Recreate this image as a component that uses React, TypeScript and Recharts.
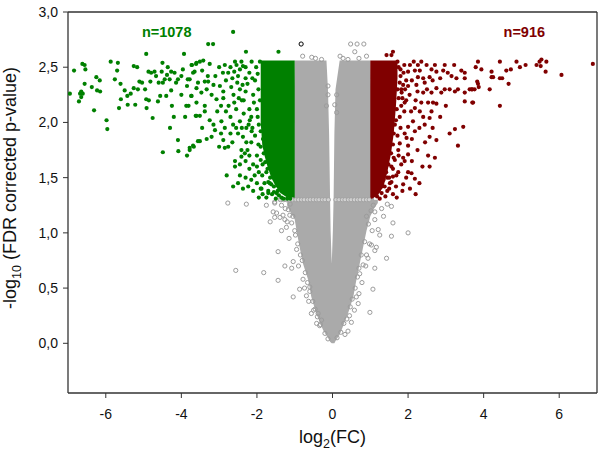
import React from 'react';
import { ComposedChart, Area, Scatter, XAxis, YAxis, ReferenceLine } from 'recharts';

const FONT = '"Liberation Sans", Arial, Helvetica, sans-serif';

const xTicks = [-6, -4, -2, 0, 2, 4, 6];
const yTicks = [0, 0.5, 1, 1.5, 2, 2.5, 3];
const xDomain: [number, number] = [-7, 7];
const yDomain: [number, number] = [-0.45, 3];

const downLabel = 'n=1078';
const upLabel = 'n=916';

type P = [number, number];
type Band = [number, number, number];

// significantly down-regulated genes (log2FC, -log10 FDR)
const downPoints: P[] = [
  [-4.93, 2.62], [-3.93, 2.62], [-6.84, 2.47], [-6.62, 2.53], [-6.56, 2.52], [-6.54, 2.48], [-5.87, 2.55], [-5.68, 2.54],
  [-5.7, 2.47], [-5.26, 2.51], [-5.17, 2.5], [-5.76, 2.39], [-6.25, 2.41], [-6.16, 2.38], [-6.56, 2.35], [-6.37, 2.32],
  [-6.23, 2.29], [-6.15, 2.28], [-6.65, 2.28], [-6.68, 2.26], [-6.61, 2.26], [-6.65, 2.23], [-6.71, 2.19], [-6.95, 2.26],
  [-6.31, 2.11], [-5.61, 2.35], [-5.5, 2.29], [-5.34, 2.26], [-5.43, 2.24], [-5.6, 2.21], [-5.65, 2.13], [-5.42, 2.16],
  [-5.22, 2.16], [-5.26, 2.31], [-5.15, 2.3], [-5.11, 2.37], [-5.04, 2.36], [-4.96, 2.3], [-4.93, 2.21], [-4.86, 2.2],
  [-4.92, 2.13], [-4.76, 2.04], [-4.62, 2.19], [-4.56, 2.24], [-4.4, 2.24], [-4.25, 2.15], [-4.27, 2.29], [-4.87, 2.46],
  [-4.8, 2.45], [-4.71, 2.46], [-4.67, 2.42], [-4.5, 2.54], [-4.52, 2.46], [-4.36, 2.5], [-4.38, 2.43], [-4.27, 2.46],
  [-4.18, 2.45], [-4.31, 2.39], [-4.14, 2.36], [-3.96, 2.48], [-3.85, 2.33], [-3.72, 2.52], [-3.61, 2.53], [-3.74, 2.24],
  [-3.87, 2.15], [-3.81, 2.15], [-3.62, 2.06], [-4.09, 1.84], [-4.49, 1.73], [-4.08, 1.74], [-3.85, 1.7], [-3.78, 1.75],
  [-3.67, 1.78], [-3.56, 1.83], [-5.98, 2.02], [-5.96, 1.94], [-4.82, 2.37], [-4.6, 2.36], [-4.49, 2.36], [-4.44, 2.39],
  [-4.09, 2.39], [-4.0, 2.42], [-3.65, 2.46], [-3.83, 2.39], [-3.29, 2.71], [-3.16, 2.71], [-2.63, 2.82], [-2.29, 2.64],
  [-1.43, 2.64], [-3.73, 2.52], [-3.6, 2.54], [-3.51, 2.55], [-3.42, 2.56], [-3.25, 2.53], [-3.69, 2.45], [-3.78, 2.39],
  [-3.56, 2.36], [-3.6, 2.31], [-3.38, 2.37], [-3.29, 2.37], [-3.47, 2.27], [-3.73, 2.24], [-3.33, 2.3], [-3.2, 2.25],
  [-3.07, 2.21], [-2.89, 2.22], [-2.89, 2.28], [-2.98, 2.33], [-2.76, 2.45], [-2.58, 2.55], [-2.54, 2.52], [-2.41, 2.55],
  [-2.37, 2.51], [-2.14, 2.55], [-1.92, 2.55], [-3.6, 2.06], [-3.51, 2.06], [-3.38, 2.15], [-3.38, 2.1], [-3.25, 2.02],
  [-3.11, 1.93], [-3.2, 1.87], [-3.33, 1.85], [-3.51, 1.83], [-3.69, 1.79], [-3.78, 1.77], [-2.85, 1.95], [-2.89, 1.84],
  [-2.76, 1.78], [-2.85, 1.77], [-2.94, 2.01], [-2.63, 1.98], [-2.45, 2.01], [-2.37, 1.87], [-2.19, 2.02], [-2.14, 1.92],
  [-2.58, 1.65], [-2.58, 1.6], [-2.8, 1.52], [-2.63, 1.42], [-2.45, 1.52], [-2.37, 1.4], [-2.23, 1.42], [-2.06, 1.52],
  [-1.88, 1.4], [-1.7, 1.36], [-1.66, 1.45], [-1.48, 1.36], [-2.41, 1.75], [-2.32, 1.72], [-2.41, 1.69],
  [-2.2, 2.45], [-2.05, 2.38], [-2.1, 2.25], [-2.0, 2.12], [-2.15, 2.05], [-1.95, 1.98], [-2.05, 1.88], [-1.9, 1.78],
  [-2.0, 1.7], [-1.85, 1.62], [-1.95, 1.55], [-1.75, 1.55], [-1.65, 1.5], [-1.8, 1.45], [-1.55, 1.42], [-1.45, 1.38],
  [-1.6, 1.35], [-1.35, 1.32], [-1.2, 1.31], [-2.3, 2.5], [-2.25, 2.35], [-2.35, 2.2], [-2.2, 2.12], [-2.28, 1.95],
  [-2.15, 1.82], [-2.25, 1.75], [-2.1, 1.62], [-2.0, 1.45], [-1.9, 1.4], [-1.7, 1.38], [-1.75, 1.32], [-1.5, 1.31],
  [-2.7, 2.5], [-2.65, 2.4], [-2.5, 2.42], [-2.45, 2.3], [-2.62, 2.25], [-2.3, 2.4], [-2.75, 2.15], [-2.55, 2.12],
  [-2.4, 2.2], [-2.7, 2.05], [-2.5, 1.9], [-2.65, 1.82], [-2.28, 1.82],
  [-2.02, 2.5], [-1.98, 2.44], [-2.12, 2.4], [-1.96, 2.3], [-2.08, 2.18], [-1.92, 2.2], [-1.98, 2.05], [-1.9, 1.92],
  [-2.12, 1.95], [-1.84, 1.85], [-1.96, 1.8], [-1.82, 1.72], [-1.9, 1.66], [-1.78, 1.64], [-1.72, 1.58], [-1.86, 1.52],
  [-1.62, 1.44], [-1.7, 1.46], [-1.42, 1.34], [-1.55, 1.37], [-1.3, 1.31], [-1.12, 1.31], [-2.45, 2.48], [-2.6, 2.46],
  [-2.38, 2.34], [-2.52, 2.36], [-2.68, 2.32], [-2.82, 2.38], [-2.9, 2.45], [-3.0, 2.5], [-3.1, 2.42], [-2.85, 2.52],
  [-2.48, 2.22], [-2.3, 2.28], [-2.6, 2.18], [-2.82, 2.1], [-2.95, 2.15], [-2.35, 2.08], [-2.22, 1.98], [-2.4, 1.95],
  [-2.55, 1.95], [-2.7, 1.9], [-2.95, 1.9], [-2.3, 1.65], [-2.2, 1.58], [-2.45, 1.62], [-2.15, 1.48], [-2.3, 1.5],
  [-2.5, 1.45], [-1.95, 1.32], [-2.1, 1.38], [-2.2, 1.7], [-2.0, 1.6], [-1.85, 1.35], [-3.15, 2.34], [-3.3, 2.42],
  [-3.45, 2.47], [-3.05, 2.1], [-3.15, 1.98], [-3.0, 1.78], [-3.45, 1.95], [-3.9, 2.05], [-4.2, 2.05], [-4.3, 1.95],
  [-3.6, 2.18], [-4.0, 2.25],
];

// significantly up-regulated genes
const upPoints: P[] = [
  [1.6, 2.64], [1.43, 2.61], [1.56, 2.61], [2.26, 2.52], [2.49, 2.52], [2.71, 2.52], [2.97, 2.52], [3.22, 2.52],
  [2.0, 2.46], [2.18, 2.47], [2.31, 2.47], [2.62, 2.48], [2.75, 2.46], [2.93, 2.47], [3.41, 2.47], [3.5, 2.45],
  [2.26, 2.41], [2.4, 2.4], [2.57, 2.41], [3.15, 2.42], [3.28, 2.4], [3.5, 2.4], [3.68, 2.3], [1.87, 2.34],
  [2.0, 2.33], [2.22, 2.34], [2.44, 2.36], [2.75, 2.31], [2.97, 2.3], [3.1, 2.3], [3.32, 2.3], [3.5, 2.27],
  [1.83, 2.27], [2.04, 2.25], [2.4, 2.27], [2.62, 2.27], [2.88, 2.27], [3.24, 2.28], [3.5, 2.19], [3.72, 2.18],
  [1.91, 2.18], [2.18, 2.13], [2.53, 2.18], [2.66, 2.18], [2.75, 2.17], [2.31, 2.1], [2.62, 2.1], [2.57, 2.04],
  [2.4, 2.05], [2.13, 2.01], [2.0, 1.96], [2.44, 1.98], [3.24, 1.94], [3.46, 1.96], [1.91, 1.9], [2.18, 1.92],
  [2.57, 1.87], [2.75, 1.84], [3.32, 1.79], [1.96, 1.86], [1.78, 1.81], [2.0, 1.79], [1.74, 1.75], [2.0, 1.71],
  [2.53, 1.7], [2.71, 1.68], [2.57, 1.6], [1.87, 1.68], [1.91, 1.65], [1.65, 1.66], [1.56, 1.6], [1.74, 1.55],
  [2.0, 1.55], [2.09, 1.54], [1.6, 1.51], [1.69, 1.52], [2.18, 1.49], [1.56, 1.46], [1.52, 1.45], [1.87, 1.44],
  [1.6, 1.35], [3.85, 2.55], [4.43, 2.55], [4.87, 2.55], [5.66, 2.55], [5.53, 2.57], [5.48, 2.55], [3.79, 2.5],
  [3.94, 2.48], [4.21, 2.46], [4.6, 2.47], [4.72, 2.48], [4.96, 2.5], [5.11, 2.52], [5.4, 2.52], [5.51, 2.51],
  [5.64, 2.46], [6.06, 2.43], [6.89, 2.53], [4.21, 2.41], [4.25, 2.41], [4.43, 2.4], [4.49, 2.4], [3.83, 2.37],
  [3.85, 2.35], [3.87, 2.32], [3.63, 2.3], [3.7, 2.3], [3.76, 2.3], [4.16, 2.3], [4.66, 2.35], [3.7, 2.18],
  [4.43, 2.15], [1.75, 2.5], [1.8, 2.42], [1.72, 2.3], [1.85, 2.22], [1.7, 2.12], [1.78, 2.05], [1.65, 1.98],
  [1.72, 1.88], [1.6, 1.8], [1.55, 1.72], [1.48, 1.62], [1.42, 1.55], [1.35, 1.48], [1.3, 1.42], [1.22, 1.38],
  [1.18, 1.33], [1.45, 1.38], [1.4, 1.33], [1.9, 2.52], [1.95, 2.38], [1.82, 2.3], [1.9, 2.1], [1.62, 1.68], [1.5, 1.5],
  [1.72, 2.55], [1.8, 2.48], [1.88, 2.45], [1.78, 2.36], [1.92, 2.3], [1.75, 2.22], [1.82, 2.15], [1.95, 2.2],
  [1.68, 2.02], [1.8, 1.95], [1.62, 1.9], [1.75, 1.7], [1.82, 1.62], [1.6, 1.58], [1.45, 1.5], [1.38, 1.42],
  [1.5, 1.4], [1.3, 1.36], [1.68, 1.42], [1.7, 1.32], [1.25, 1.31], [2.05, 2.52], [2.15, 2.55], [2.35, 2.55],
  [2.1, 2.38], [2.25, 2.28], [2.35, 2.18], [2.08, 2.1], [2.2, 2.2], [2.5, 2.3], [2.65, 2.38], [2.85, 2.4],
  [3.05, 2.45], [2.1, 1.85], [2.3, 1.95], [2.45, 1.82], [2.25, 1.75], [2.38, 1.6], [2.1, 1.65], [1.95, 1.5],
  [2.3, 1.45], [2.85, 2.05], [3.0, 2.15], [3.1, 1.9], [2.65, 1.95], [2.05, 1.4], [1.85, 1.38], [2.2, 1.35],
];

// not significant genes (outside the dense core)
const nsPoints: P[] = [
  [0.48, 2.71], [0.65, 2.71], [0.83, 2.71], [0.59, 2.64], [-0.79, 2.6], [0.9, 2.6], [-0.29, 2.57], [0.28, 2.58],
  [0.41, 2.57], [-0.12, 2.33], [-0.12, 2.25], [0.11, 2.25], [0.06, 2.16], [0.11, 2.09], [-0.16, 2.15], [-0.55, 2.59],
  [-0.45, 2.58], [0.2, 2.6], [0.7, 2.58],
  [-1.53, 1.28], [-1.57, 1.19], [-1.48, 1.18], [-1.39, 1.14], [-1.53, 1.14], [-1.31, 1.16], [-1.26, 1.12], [-1.35, 1.02],
  [-1.17, 1.21], [-1.13, 1.16], [-1.0, 1.02], [-1.08, 1.09], [-1.22, 1.05], [-1.82, 0.64], [-1.44, 0.83], [-1.26, 0.7],
  [-1.04, 0.74], [-1.08, 0.68], [-1.44, 0.57], [-1.04, 0.42], [-0.87, 0.49], [-0.6, 0.51], [-0.69, 0.43], [-0.56, 0.27],
  [-0.38, 0.27], [-0.29, 0.21], [-0.34, 0.16], [1.12, 1.19], [1.12, 1.12], [1.56, 1.24], [1.6, 1.09], [1.21, 1.03],
  [1.25, 0.98], [1.56, 0.97], [1.03, 0.89], [1.12, 0.84], [1.16, 0.87], [0.9, 0.8], [0.94, 0.77], [1.43, 0.77],
  [0.81, 0.71], [1.12, 0.68], [0.72, 0.63], [1.07, 0.49], [0.99, 0.28], [0.63, 0.42], [0.68, 0.36], [0.5, 0.19],
  [0.41, 0.11], [0.33, 0.08], [2.0, 1.0], [-2.77, 1.27], [-2.28, 1.26], [-1.53, 1.27], [-2.56, 0.66],
  [-1.05, 1.15], [-0.98, 0.98], [-0.92, 0.9], [-0.85, 0.8], [-0.8, 0.75], [-0.72, 0.64], [-0.66, 0.55], [-0.6, 0.47],
  [-0.52, 0.38], [-0.46, 0.31], [-0.4, 0.24], [-0.32, 0.17], [-0.2, 0.09], [-0.12, 0.04], [0.12, 0.05], [0.22, 0.1],
  [0.3, 0.18], [0.38, 0.22], [0.47, 0.33], [0.52, 0.4], [0.6, 0.5], [0.66, 0.6], [0.7, 0.68], [0.76, 0.8],
  [0.85, 0.92], [0.95, 1.08], [1.02, 1.2], [1.08, 1.25], [-1.12, 1.26], [-1.25, 1.22], [-1.35, 1.25],
  [-1.2, 1.1], [-1.15, 0.95], [-0.95, 0.85], [-0.9, 0.7], [-0.78, 0.58], [-0.74, 0.5], [-0.63, 0.38], [-0.5, 0.3],
  [-0.42, 0.18], [0.9, 1.15], [1.05, 1.02], [0.98, 0.9], [0.88, 0.7], [0.78, 0.55], [0.7, 0.45], [0.58, 0.3],
  [0.45, 0.25], [-1.75, 1.25], [-1.65, 1.1], [1.35, 1.15], [1.45, 1.26], [1.3, 1.22],
];

// genes sitting exactly on FDR = 0.05
const thresholdPoints: P[] = [
  [-1.38, 1.3], [-1.29, 1.3], [-1.21, 1.3], [-1.14, 1.3], [-1.06, 1.3], [-0.97, 1.3], [-0.9, 1.3], [-0.82, 1.3],
  [-0.75, 1.3], [-0.66, 1.3], [-0.59, 1.3], [-0.51, 1.3], [-0.43, 1.3], [-0.36, 1.3], [-0.27, 1.3], [-0.2, 1.3],
  [-0.11, 1.3], [0.09, 1.3], [0.17, 1.3], [0.26, 1.3], [0.33, 1.3], [0.42, 1.3], [0.49, 1.3], [0.58, 1.3],
  [0.66, 1.3], [0.73, 1.3], [0.82, 1.3], [0.9, 1.3], [0.97, 1.3],
];

const highlightPoints: P[] = [[-0.83, 2.71]];

// envelopes of the regions where points overlap completely: [log2FC, low, high]
const downCore: Band[] = [
  [-1.9, 2.0, 2.56], [-1.86, 1.8, 2.56], [-1.8, 1.7, 2.56], [-1.72, 1.6, 2.56], [-1.62, 1.5, 2.56],
  [-1.5, 1.42, 2.56], [-1.38, 1.36, 2.56], [-1.2, 1.32, 2.56], [-1.0, 1.3, 2.56],
];
const nsCore: Band[] = [
  [-1.2, 1.24, 1.3], [-1.1, 1.18, 1.3], [-1.0, 1.12, 2.56], [-0.95, 1.02, 2.56], [-0.87, 0.87, 2.56],
  [-0.78, 0.72, 2.56], [-0.64, 0.57, 2.56], [-0.56, 0.42, 2.56], [-0.43, 0.27, 2.56], [-0.25, 0.12, 2.56],
  [-0.16, 0.07, 2.56], [-0.12, 0.05, 2.3], [-0.09, 0.03, 1.9], [-0.065, 0.015, 1.33], [-0.05, 0.01, 1.02],
  [-0.02, 0.0, 0.72], [0.01, 0.0, 1.02], [0.03, 0.0, 1.33], [0.05, 0.0, 1.9], [0.08, 0.02, 2.3],
  [0.19, 0.08, 2.56], [0.24, 0.12, 2.56], [0.41, 0.27, 2.56], [0.55, 0.42, 2.56], [0.63, 0.57, 2.56],
  [0.72, 0.72, 2.56], [0.81, 0.87, 2.56], [0.9, 1.02, 2.56], [1.0, 1.15, 2.56], [1.1, 1.22, 1.3], [1.2, 1.27, 1.3],
];
const upCore: Band[] = [
  [1.0, 1.3, 2.56], [1.2, 1.34, 2.56], [1.35, 1.42, 2.56], [1.45, 1.55, 2.56],
  [1.55, 1.72, 2.56], [1.62, 1.9, 2.56], [1.68, 2.15, 2.56], [1.72, 2.4, 2.56],
];

const GREEN = '#008000';
const RED = '#800000';
const GREY = '#9c9c9c';
const AXIS = '#333333';

const toXY = (arr: P[]) => arr.map(([x, y]) => ({ x, y }));

const coreRows = [
  ...downCore.map(([x, lo, hi]) => ({ x, down: [lo, hi] })),
  ...nsCore.map(([x, lo, hi]) => ({ x, ns: [lo, hi] })),
  ...upCore.map(([x, lo, hi]) => ({ x, up: [lo, hi] })),
];

const filledDot = (color: string) => (p: any) => (
  <circle cx={p.cx} cy={p.cy} r={2.1} fill={color} stroke="none" />
);
const ringDot = (color: string, fill: string) => (p: any) => (
  <circle cx={p.cx} cy={p.cy} r={2.1} fill={fill} stroke={color} strokeWidth={1} />
);

const fmt = (v: number) => v.toFixed(1).replace('.', ',');

export default function App() {
  return (
    <div style={{ position: 'absolute', left: 0, top: 0, width: 600, height: 459, background: '#fff' }}>
      <ComposedChart
        width={600}
        height={459}
        data={coreRows}
        margin={{ top: 12, right: 3, bottom: 36, left: 8 }}
      >
        <XAxis
          type="number"
          dataKey="x"
          domain={xDomain}
          ticks={xTicks}
          interval={0}
          allowDataOverflow
          height={30}
          tickSize={5}
          tickMargin={11}
          stroke={AXIS}
          axisLine={{ stroke: AXIS, strokeWidth: 1.3 }}
          tickLine={{ stroke: AXIS, strokeWidth: 1 }}
          tick={{ fill: '#111', fontSize: 14, fontFamily: FONT }}
        />
        <YAxis
          type="number"
          dataKey="y"
          domain={yDomain}
          ticks={yTicks}
          interval={0}
          allowDataOverflow
          width={60}
          tickSize={5}
          tickMargin={5}
          tickFormatter={fmt}
          stroke={AXIS}
          axisLine={{ stroke: AXIS, strokeWidth: 1.3 }}
          tickLine={{ stroke: AXIS, strokeWidth: 1 }}
          tick={{ fill: '#111', fontSize: 14, fontFamily: FONT }}
        />
        <ReferenceLine y={3} stroke={AXIS} strokeWidth={1.3} />
        <ReferenceLine x={7} stroke={AXIS} strokeWidth={1.3} />

        <Area dataKey="ns" type="linear" stroke="none" fill="#aaaaaa" fillOpacity={1} isAnimationActive={false} dot={false} activeDot={false} />
        <Scatter data={toXY(nsPoints)} shape={ringDot(GREY, 'none')} isAnimationActive={false} />
        <Scatter data={toXY(thresholdPoints)} shape={ringDot('#a4a4a4', '#d2d2d2')} isAnimationActive={false} />
        <Area dataKey="down" type="linear" stroke="none" fill={GREEN} fillOpacity={1} isAnimationActive={false} dot={false} activeDot={false} />
        <Area dataKey="up" type="linear" stroke="none" fill={RED} fillOpacity={1} isAnimationActive={false} dot={false} activeDot={false} />
        <Scatter data={toXY(downPoints)} shape={filledDot(GREEN)} isAnimationActive={false} />
        <Scatter data={toXY(upPoints)} shape={filledDot(RED)} isAnimationActive={false} />
        <Scatter data={toXY(highlightPoints)} shape={ringDot('#000000', 'none')} isAnimationActive={false} />
      </ComposedChart>
      <svg
        width={600}
        height={459}
        style={{ position: 'absolute', left: 0, top: 0, pointerEvents: 'none' }}
        fontFamily={FONT}
      >
        <text x={332.5} y={443} textAnchor="middle" fontSize={18} fill="#111">
          log<tspan dy={5} fontSize={12.5}>2</tspan>
          <tspan dy={-5}>(FC)</tspan>
        </text>
        <text x={16} y={188} textAnchor="middle" fontSize={18} fill="#111" transform="rotate(-90 16 188)">
          -log<tspan dy={5} fontSize={12.5}>10</tspan>
          <tspan dy={-5}> (FDR corrected p-value)</tspan>
        </text>
        <text x={166.7} y={37} textAnchor="middle" fontSize={14.5} fontWeight="bold" fill={GREEN}>
          {downLabel}
        </text>
        <text x={524.3} y={37} textAnchor="middle" fontSize={14.5} fontWeight="bold" fill={RED}>
          {upLabel}
        </text>
      </svg>
    </div>
  );
}
